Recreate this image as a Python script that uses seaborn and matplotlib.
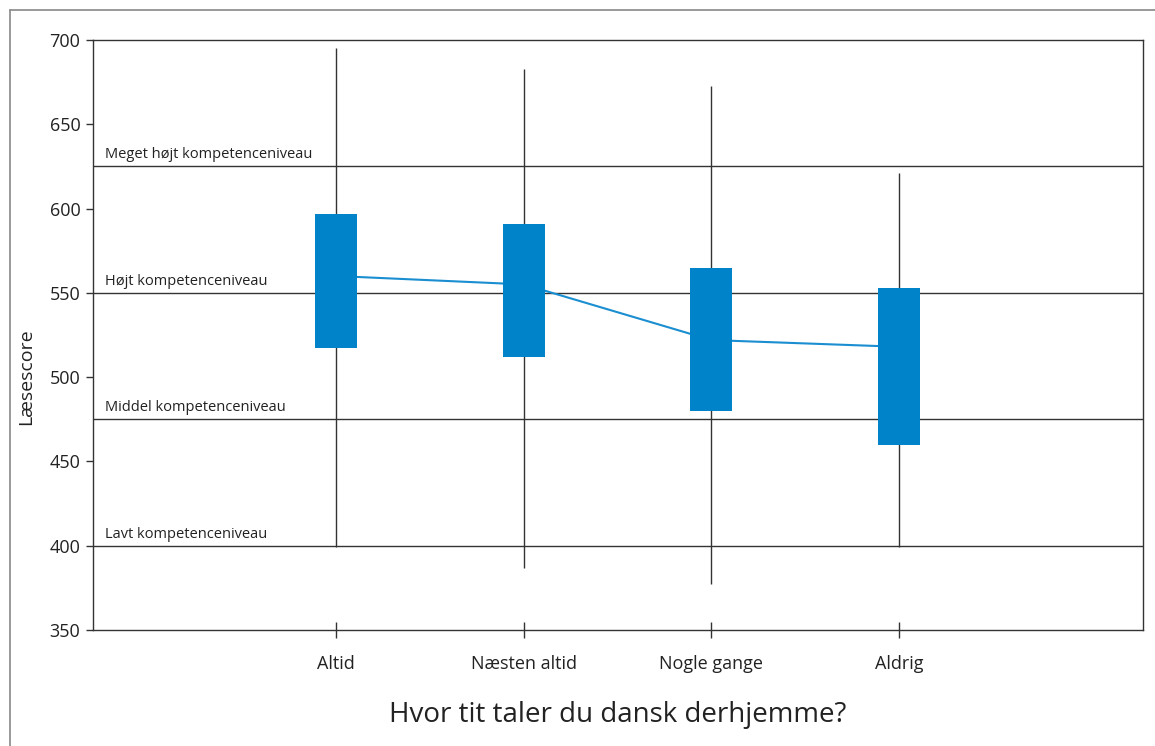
import numpy as np
import pandas as pd
import matplotlib.pyplot as plt
from matplotlib.lines import Line2D
import seaborn as sns

# Data
categories = ['Altid', 'Næsten altid', 'Nogle gange', 'Aldrig']
whisker_low = [399, 387, 377, 399]
whisker_high = [695, 683, 673, 621]
box_low = [517, 512, 480, 460]
box_high = [597, 591, 565, 553]
mean_score = [560, 555, 522, 518]

level_values = [625, 550, 475, 400]
level_labels = ['Meget højt kompetenceniveau', 'Højt kompetenceniveau',
                'Middel kompetenceniveau', 'Lavt kompetenceniveau']

sns.set_style('white')
plt.rcParams['font.family'] = ['Open Sans', 'DejaVu Sans']

dark = '#333333'
blue = '#0083c8'

fig = plt.figure(figsize=(11.55, 7.46), dpi=100)
ax = fig.add_axes([93 / 1155, 1 - 630 / 746, 1050 / 1155, 590 / 746])

x = np.arange(len(categories))

# level lines
for v in level_values:
    ax.axhline(v, color=dark, lw=1, zorder=1)

# whiskers
ax.vlines(x, whisker_low, whisker_high, color=dark, lw=1, zorder=2)

# mean line
df = pd.DataFrame({'x': x, 'mean': mean_score})
sns.lineplot(data=df, x='x', y='mean', color='#1a8ed0', lw=1.5, ax=ax, zorder=3)

# boxes
ax.bar(x, np.array(box_high) - np.array(box_low), bottom=box_low,
       width=0.225, color=blue, edgecolor='none', linewidth=0, zorder=4)

# level labels
for v, lab in zip(level_values, level_labels):
    ax.text(-1.23, v + 2.5, lab, fontsize=10.5, color='#222222', va='bottom', ha='left')

ax.set_xlim(-1.295, 4.3)
ax.set_ylim(350, 700)
ax.set_xticks(x)
ax.set_xticklabels(categories)
ax.set_yticks([350, 400, 450, 500, 550, 600, 650, 700])

ax.tick_params(axis='x', direction='inout', length=12, width=1, color=dark,
               pad=12, labelsize=13, labelcolor='#222222', bottom=True)
ax.tick_params(axis='y', direction='out', length=5, width=1, color=dark,
               pad=4, labelsize=13, labelcolor='#222222', left=True)

for s in ax.spines.values():
    s.set_color(dark)
    s.set_linewidth(1)

ax.set_xlabel('Hvor tit taler du dansk derhjemme?', fontsize=20, color='#222222', labelpad=20)
ax.set_ylabel('Læsescore', fontsize=14, color='#222222')
ax.yaxis.set_label_coords(-0.055, 0.43)

# outer frame lines (top and left)
fig.add_artist(Line2D([10 / 1155, 10 / 1155], [0, 1 - 10 / 746],
                      transform=fig.transFigure, color='#888888', lw=1.2))
fig.add_artist(Line2D([10 / 1155, 1], [1 - 10 / 746, 1 - 10 / 746],
                      transform=fig.transFigure, color='#888888', lw=1.2))

fig.savefig('out.png', dpi=100)
